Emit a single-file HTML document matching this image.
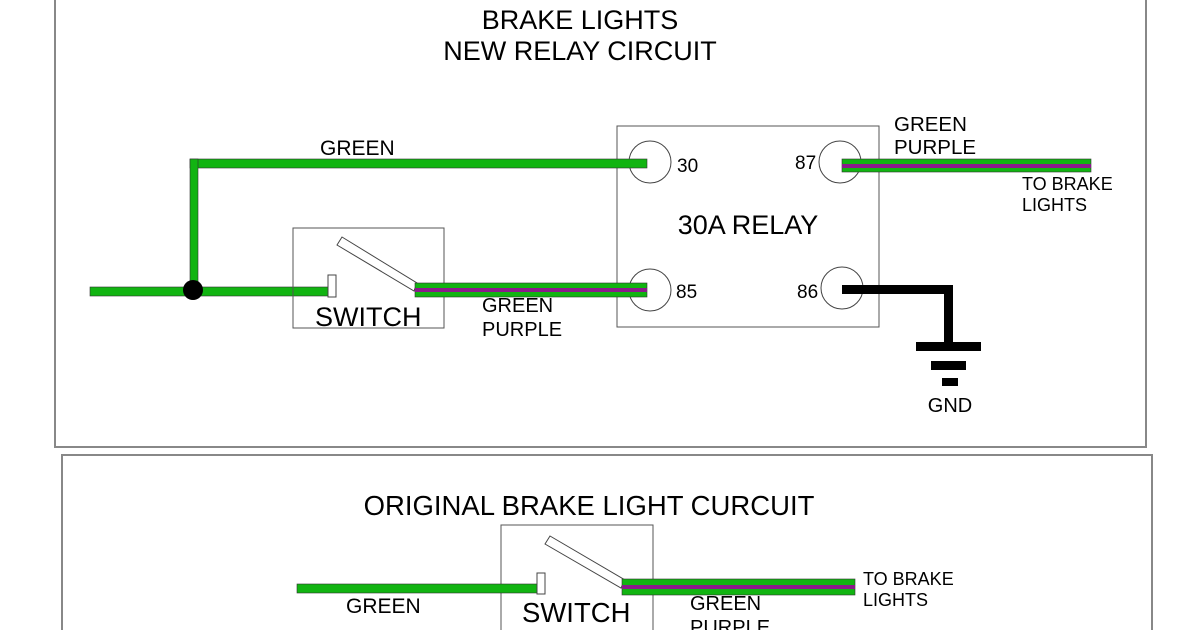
<!DOCTYPE html>
<html><head><style>
html,body{margin:0;padding:0;background:#fff;}
svg{display:block;font-family:"Liberation Sans",Arial,sans-serif;}
</style></head><body>
<svg width="1200" height="630" viewBox="0 0 1200 630" xmlns="http://www.w3.org/2000/svg">
<rect width="1200" height="630" fill="#fff"/>
<polyline points="55,0 55,447 1146,447 1146,0" fill="none" stroke="#888" stroke-width="2"/>
<polyline points="62,630 62,455 1152,455 1152,630" fill="none" stroke="#888" stroke-width="2"/>
<text x="580" y="29" font-size="27" text-anchor="middle">BRAKE LIGHTS</text>
<text x="580" y="60" font-size="27" text-anchor="middle">NEW RELAY CIRCUIT</text>

<rect x="617" y="126" width="262" height="201" fill="none" stroke="#555" stroke-width="1"/>
<circle cx="650" cy="162" r="21" fill="#fff" stroke="#444"/>
<circle cx="840" cy="162" r="21" fill="#fff" stroke="#444"/>
<circle cx="650" cy="290" r="21" fill="#fff" stroke="#444"/>
<circle cx="842" cy="288" r="21" fill="#fff" stroke="#444"/>
<text x="677" y="172" font-size="19">30</text>
<text x="795" y="169" font-size="19">87</text>
<text x="676" y="298" font-size="19">85</text>
<text x="797" y="298" font-size="19">86</text>
<text x="748" y="234" font-size="27" text-anchor="middle">30A RELAY</text>

<rect x="190" y="159" width="457" height="9" fill="#11b411" stroke="#333" stroke-width="0.6"/>
<rect x="190" y="159" width="8" height="133" fill="#11b411" stroke="#333" stroke-width="0.6"/>
<rect x="90" y="287" width="240" height="9" fill="#11b411" stroke="#333" stroke-width="0.6"/>
<circle cx="193" cy="290" r="10" fill="#000"/>
<text x="320" y="155" font-size="21">GREEN</text>

<rect x="293" y="228" width="151" height="100" fill="none" stroke="#555"/>
<rect x="328" y="275" width="8" height="22" fill="#fff" stroke="#444"/>
<polygon points="337,245 342,237 417,283 414,291" fill="#fff" stroke="#444"/>
<text x="315" y="326" font-size="27">SWITCH</text>
<rect x="415" y="283" width="232" height="14" fill="#11b411" stroke="#333" stroke-width="0.6"/>
<rect x="415" y="288" width="232" height="4" fill="#8a1a8a"/>
<text x="482" y="312" font-size="20">GREEN</text>
<text x="482" y="336" font-size="20">PURPLE</text>

<rect x="842" y="159" width="249" height="13" fill="#11b411" stroke="#333" stroke-width="0.6"/>
<rect x="842" y="164" width="249" height="4" fill="#8a1a8a"/>
<text x="894" y="131" font-size="20.5">GREEN</text>
<text x="894" y="154" font-size="20.5">PURPLE</text>
<text x="1022" y="190" font-size="18">TO BRAKE</text>
<text x="1022" y="211" font-size="18">LIGHTS</text>

<rect x="842" y="285" width="111" height="9" fill="#000"/>
<rect x="944" y="285" width="9" height="60" fill="#000"/>
<rect x="916" y="342" width="65" height="9" fill="#000"/>
<rect x="931" y="361" width="35" height="9" fill="#000"/>
<rect x="942" y="378" width="16" height="8" fill="#000"/>
<text x="950" y="412" font-size="20" text-anchor="middle">GND</text>

<text x="589" y="515" font-size="27.5" text-anchor="middle">ORIGINAL BRAKE LIGHT CURCUIT</text>
<rect x="501" y="525" width="152" height="120" fill="none" stroke="#555"/>
<rect x="297" y="584" width="242" height="9" fill="#11b411" stroke="#333" stroke-width="0.6"/>
<rect x="537" y="573" width="8" height="21" fill="#fff" stroke="#444"/>
<polygon points="545,544 550,536 625,580 621,588" fill="#fff" stroke="#444"/>
<rect x="622" y="579" width="233" height="16" fill="#11b411" stroke="#333" stroke-width="0.6"/>
<rect x="622" y="585" width="233" height="4" fill="#8a1a8a"/>
<text x="522" y="622" font-size="27.5">SWITCH</text>
<text x="346" y="613" font-size="21">GREEN</text>
<text x="690" y="610" font-size="20">GREEN</text>
<text x="690" y="634" font-size="20">PURPLE</text>
<text x="863" y="585" font-size="18">TO BRAKE</text>
<text x="863" y="606" font-size="18">LIGHTS</text>
</svg>
</body></html>
